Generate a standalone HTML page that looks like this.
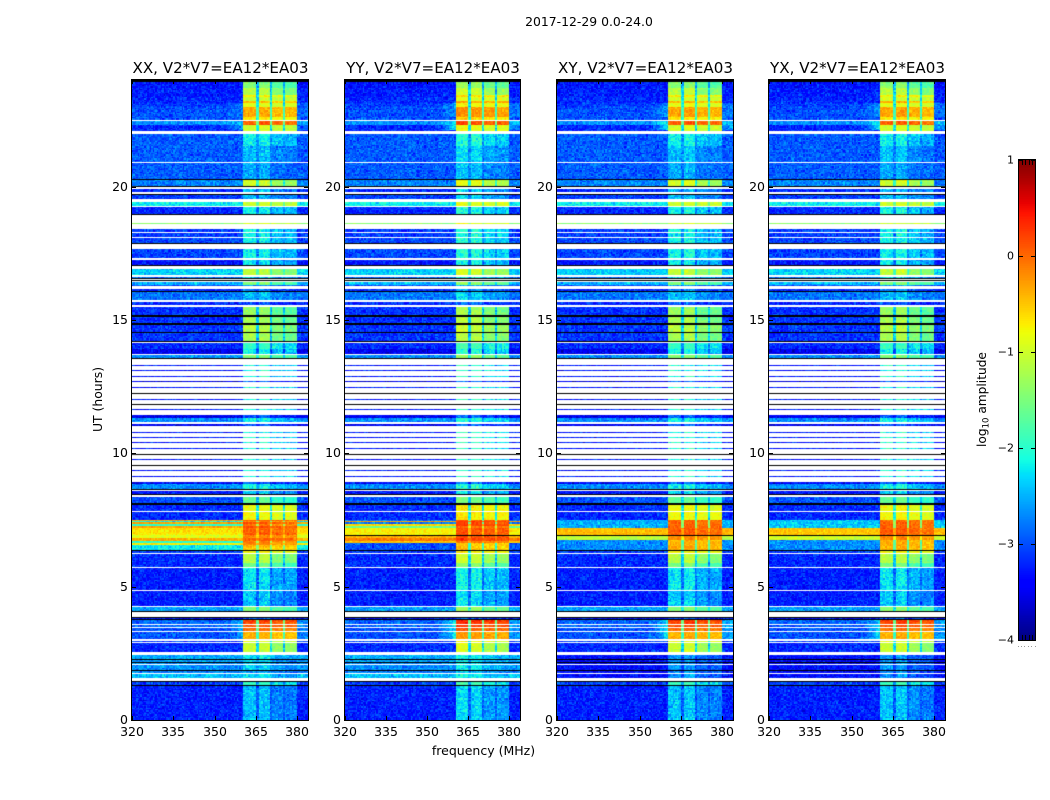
<!DOCTYPE html>
<html lang="en">
<head>
<meta charset="utf-8">
<title>2017-12-29 0.0-24.0</title>
<style>
html,body{margin:0;padding:0;background:#fff;}
#figure{position:relative;width:1050px;height:800px;overflow:hidden;background:#fff;font-family:"DejaVu Sans","Liberation Sans",sans-serif;}
#figure canvas{position:absolute;display:block;}
#overlay{position:absolute;left:0;top:0;}
#overlay text{fill:#000;font-family:"DejaVu Sans","Liberation Sans",sans-serif;}
</style>
</head>
<body>
<div id="figure">
<svg id="overlay" width="1050" height="800" viewBox="0 0 1050 800"></svg>
</div>
<script>
// ---- chart data ----
const W = null;   // flagged time range (drawn white)
const K = -9;     // zero amplitude (drawn black)
const B = -3.3;   // short scan between flagged ranges, off-band level
const G = -2.1;   // short scan between flagged ranges, in-band level

const polarizations = ['XX', 'YY', 'XY', 'YX'];
const baselineLabel = 'V2*V7=EA12*EA03';
const freqTicks = [320, 335, 350, 365, 380];
const hourTicks = [0, 5, 10, 15, 20];
const colorbarTicks = [-4, -3, -2, -1, 0, 1];

// Time bands: start hour, off-band log10 amplitude, in-band log10 amplitude
const bandStart = [
  0,1.275,1.31,1.44,1.48,1.59,1.73,1.76,1.82,1.86,
  2.07,2.11,2.145,2.18,2.25,2.29,2.42,2.55,2.895,2.93,
  2.98,3.02,3.30,3.34,3.45,3.49,3.56,3.60,3.66,3.69,
  3.75,3.79,3.84,3.87,4.06,4.09,4.22,4.275,4.85,4.89,
  5.70,5.74,5.89,6.22,6.27,6.33,6.39,6.48,6.56,6.64,
  6.71,6.82,6.94,7.0,7.2,7.27,7.35,7.42,7.46,7.50,
  7.81,7.84,8.08,8.14,8.36,8.42,8.46,8.58,8.625,8.66,
  8.86,8.925,9.11,9.15,9.33,9.36,9.525,9.56,9.75,9.78,
  9.94,9.99,10.15,10.19,10.39,10.42,10.575,10.61,10.76,10.80,
  11.01,11.11,11.175,11.325,11.43,11.61,11.65,11.80,11.84,12.01,
  12.05,12.225,12.26,12.44,12.475,12.675,12.71,12.86,12.90,13.08,
  13.11,13.29,13.32,13.525,13.56,13.675,13.725,13.90,14.125,14.175,
  14.23,14.51,14.56,14.81,14.87,15.13,15.17,15.49,15.55,15.69,
  15.75,16.06,16.10,16.18,16.26,16.31,16.44,16.475,16.51,16.55,
  16.59,16.62,16.67,16.91,17.025,17.06,17.25,17.34,17.67,17.85,
  17.89,18.075,18.13,18.26,18.30,18.41,18.61,18.64,18.94,18.975,
  19.22,19.29,19.41,19.53,19.69,19.73,19.80,19.91,19.97,20.025,
  20.25,20.29,20.895,20.93,21.525,21.975,22.10,22.33,22.46,22.50,
  22.61,23.0,23.12,23.21,23.36,23.45,23.70,23.91
];
const bandOff = [
  -3.25,K,-3.1,K,W,-2.45,W,-2.75,K,-2.7,
  W,-2.7,K,-2.6,K,-2.55,W,-3.2,W,-3.1,
  W,-3.0,W,-3.0,W,-2.9,W,-2.9,W,-2.9,
  K,-3.3,K,W,K,-2.6,W,-3.25,W,-3.25,
  W,-3.2,-3.2,W,-3.1,K,-2.2,-2.2,-0.7,-2.0,
  -0.4,-0.9,-0.7,-0.65,-0.35,-2.0,-0.3,-2.2,-0.4,-3.2,
  W,-3.2,K,-3.0,W,K,-3.3,W,K,-2.7,
  -3.4,W,B,W,B,W,K,W,B,W,
  K,W,B,W,B,W,B,W,B,W,
  -3.5,W,-2.7,-3.5,W,B,W,K,W,B,
  W,K,W,B,W,-3.6,W,B,W,B,
  W,B,W,K,-2.7,W,-3.5,-3.2,W,K,
  -3.15,K,-3.15,K,-3.15,K,-3.15,W,-3.2,W,
  -2.8,K,-3.2,W,-3.0,-2.5,W,K,W,K,
  -2.8,W,-2.35,W,K,-3.3,W,-3.05,W,K,
  -3.05,W,-3.1,W,-3.1,W,-1.4,W,K,-3.2,
  W,-2.2,W,-3.1,K,W,-3.2,W,K,-2.75,
  K,-2.95,W,-2.95,-2.95,W,-3.2,-2.7,W,-3.0,
  -3.0,-3.1,-3.2,-3.2,-3.25,-3.25,-3.3,K
];
const bandIn = [
  -2.5,K,-2.0,K,W,-2.35,W,-2.6,K,-2.4,
  W,-2.4,K,-2.4,K,-2.3,W,-1.1,W,-0.9,
  W,-0.4,W,-0.05,W,0.1,W,0.15,W,0.2,
  K,-3.0,K,W,K,-1.5,W,-2.45,W,-2.3,
  W,-1.6,-1.2,W,-0.8,K,-0.5,-0.4,-0.2,-0.15,
  0.05,-0.15,0.1,0.05,0.1,-0.1,0.1,-0.2,0.05,-0.8,
  W,-0.85,K,-1.7,W,K,-2.4,W,K,-2.2,
  -3.0,W,G,W,G,W,K,W,G,W,
  K,W,G,W,G,W,G,W,G,W,
  -3.0,W,-2.2,-3.0,W,G,W,K,W,G,
  W,K,W,G,W,-3.0,W,G,W,G,
  W,G,W,K,-1.5,W,-2.2,-2.0,W,K,
  -1.3,K,-1.2,K,-1.3,K,-1.4,W,-3.0,W,
  -2.5,K,-2.8,W,-2.7,-1.5,W,K,W,K,
  -2.3,W,-1.15,W,K,-2.3,W,-2.2,W,K,
  -2.2,W,-2.2,W,-2.2,W,-1.0,W,K,-2.2,
  W,-1.0,W,-2.5,K,W,-2.5,W,K,-1.05,
  K,-2.6,W,-2.5,-2.2,W,-1.0,0.05,W,-0.7,
  -0.35,-0.9,-0.45,-1.0,-0.75,-1.2,-1.5,K
];

// Polarization-specific time ranges replacing the shared table above (later rows win)
const overrideStart = [6.39,6.62,6.72,6.82,6.9,6.94,7.2,7.27,7.35,7.42, 6.39,6.75,6.9,6.94,7.2,7.3, 6.39,6.75,6.9,6.94,7.2,7.3, 1.59,1.59];
const overrideEnd   = [6.62,6.72,6.82,6.9,6.94,7.2,7.27,7.35,7.5,7.46, 6.75,6.9,6.94,7.2,7.5,7.33, 6.75,6.9,6.94,7.2,7.5,7.33, 2.42,2.42];
const overridePol   = [1,1,1,1,1,1,1,1,1,1, 2,2,2,2,2,2, 3,3,3,3,3,3, 2,3];
const overrideOff   = [-3.0,-0.5,-0.1,-0.4,K,-0.75,-1.6,-0.6,-2.8,-0.3, -2.7,-1.1,K,-0.45,-2.5,-1.2, -2.7,-1.0,K,-0.5,-2.4,-1.2, -3.35,-3.35];
const overrideIn    = [-0.6,-0.2,0.1,0.05,K,0.0,-0.1,0.1,0.0,0.1, -0.4,-0.2,K,0.05,0.0,0.0, -0.4,-0.2,K,0.05,0.0,0.0, -2.7,-2.7];

// Receiver sub-bands in MHz, with per-polarization level offsets
const subbandStart = [360.5, 365.8, 370.9, 375.6];
const subbandEnd   = [364.9, 369.8, 374.9, 380.0];
const polSubbandOffset = [[0,0,-0.1,-0.1],[0.15,0.1,0.05,0.05],[0,0.05,-0.05,-0.05],[0,0.05,-0.05,-0.1]];
const lowLevelSubbandOffset = [0.05,0.05,-0.15,-0.2];

// Spectral leakage next to the sub-bands during strong interference
const wingStart = [3.0, 22.1, 22.6];
const wingEnd   = [3.75, 22.5, 23.1];
const wingLevel = [-2.2, -2.1, -2.6];
const polWingStrength = [0.6, 1, 1, 1];

// Speckle deviations in log10 amplitude, estimated from the picture's grain
const speckleA = [0.12,-0.18,0.05,0.22,-0.09,-0.25,0.16,0.02,-0.14,0.26,-0.04,0.09,-0.21,0.18,-0.11,0.03,0.24,-0.17,-0.02,0.14,-0.27,0.07,0.2,-0.12,0.01,-0.2,0.11,0.28,-0.07,-0.15,0.17,-0.23,0.04,0.13,-0.05,0.21,-0.16];
const speckleB = [-0.1,0.15,0.03,-0.2,0.08,0.19,-0.06,-0.13,0.11,-0.01,0.17,-0.18,0.06,0.12,-0.22,0.02,0.14,-0.08,0.2,-0.03,-0.15,0.09,0.04,-0.12,0.18,-0.05,0.13,-0.19,0.01,0.16,-0.09,0.07,-0.24,0.1,0.05,-0.14,0.21,-0.04,-0.11,0.08,0];

// ---- layout and axes ----
const panelLeft  = [132, 345, 557, 769];
const panelRight = [308, 520, 733, 945];
const axisTop = 80;
const axisBottom = 720;
const freqMin = 320;
const freqMax = 384;
const hourMax = 24;
const channelWidth = 0.5;
const rowHours = 0.0375;
const colorMin = -4;
const colorMax = 1;
const cbarLeft = 1019;
const cbarRight = 1035;
const cbarTop = 160;
const cbarBottom = 640;

function xScale(p, f) {
  return panelLeft[p] + (f - freqMin) / (freqMax - freqMin) * (panelRight[p] - panelLeft[p]);
}
function yScale(h) {
  return axisBottom - h / hourMax * (axisBottom - axisTop);
}
function cbarScale(v) {
  return cbarBottom - (v - colorMin) / (colorMax - colorMin) * (cbarBottom - cbarTop);
}

// ---- jet colormap ----
const jetRed = [[0,0],[0.35,0],[0.66,1],[0.89,1],[1,0.5]];
const jetGreen = [[0,0],[0.125,0],[0.375,1],[0.64,1],[0.91,0],[1,0]];
const jetBlue = [[0,0.5],[0.11,1],[0.34,1],[0.65,0],[1,0]];
function channelAt(stops, t) {
  for (let i = 1; i < stops.length; i++) {
    if (t <= stops[i][0]) {
      const a = stops[i - 1], b = stops[i];
      return a[1] + (b[1] - a[1]) * (t - a[0]) / (b[0] - a[0]);
    }
  }
  return stops[stops.length - 1][1];
}
const colorLut = [];
for (let i = 0; i < 256; i++) {
  const t = i / 255;
  colorLut.push('rgb(' + Math.round(channelAt(jetRed, t) * 255) + ',' + Math.round(channelAt(jetGreen, t) * 255) + ',' + Math.round(channelAt(jetBlue, t) * 255) + ')');
}
function colorFor(v) {
  const t = Math.max(0, Math.min(1, (v - colorMin) / (colorMax - colorMin)));
  return colorLut[Math.round(t * 255)];
}

// ---- heatmap ----
function bandLevels(p, h) {
  let idx = 0;
  for (let i = 0; i < bandStart.length; i++) {
    if (bandStart[i] <= h) idx = i; else break;
  }
  let off = bandOff[idx], inb = bandIn[idx];
  for (let i = 0; i < overrideStart.length; i++) {
    if (overridePol[i] === p && h >= overrideStart[i] && h < overrideEnd[i]) {
      const gapRow = off === W || off === K;
      if (!gapRow || overrideOff[i] === K) {
        off = overrideOff[i];
        inb = overrideIn[i];
      }
    }
  }
  return [off, inb];
}
function wingFor(h) {
  for (let i = 0; i < wingStart.length; i++) {
    if (h >= wingStart[i] && h < wingEnd[i]) return wingLevel[i];
  }
  return null;
}
function cellValue(p, f, off, inb, wing) {
  for (let s = 0; s < subbandStart.length; s++) {
    if (f >= subbandStart[s] && f < subbandEnd[s]) {
      return inb + polSubbandOffset[p][s] + (inb < -1 ? lowLevelSubbandOffset[s] : 0);
    }
  }
  if (f >= subbandStart[0] && f < subbandEnd[3]) return off + 0.42 * (inb - off);
  if (wing !== null) {
    const k = polWingStrength[p];
    if (f < subbandStart[0] && f > 352) {
      const u = (f - 352) / (subbandStart[0] - 352);
      return Math.max(off, off + (wing - off) * u * u * k);
    }
    if (f >= subbandEnd[3]) return Math.max(off, off + (wing - off) * 0.45 * k);
  }
  return off;
}
function grainMix(c, row, p) {
  let m = Math.imul(c * 4099 + row * 131 + p * 7 + 1, 2654435761);
  m ^= m >>> 15;
  m = Math.imul(m, 739982445);
  m ^= m >>> 12;
  return m >>> 0;
}
function drawHeatmap(p) {
  const canvas = document.createElement('canvas');
  
  
  canvas.width = panelRight[p] - panelLeft[p];
  canvas.height = axisBottom - axisTop;
  canvas.style.left = panelLeft[p] + 'px';
  canvas.style.top = axisTop + 'px';
  const ctx = canvas.getContext('2d');
  ctx.fillStyle = '#fff';
  ctx.fillRect(0, 0, canvas.width, canvas.height);
  const rows = Math.round(hourMax / rowHours);
  const channels = Math.round((freqMax - freqMin) / channelWidth);
  for (let r = 0; r < rows; r++) {
    const h0 = r * rowHours;
    const levels = bandLevels(p, h0 + rowHours / 2);
    const off = levels[0], inb = levels[1];
    if (off === W) continue;
    const y0 = Math.round(yScale(h0 + rowHours)) - axisTop;
    const y1 = Math.round(yScale(h0)) - axisTop;
    if (off === K) {
      ctx.fillStyle = '#000';
      ctx.fillRect(0, y0, canvas.width, y1 - y0);
      continue;
    }
    const wing = wingFor(h0);
    const grainRow = Math.floor(r * 0.75);
    for (let c = 0; c < channels; c++) {
      const f = freqMin + c * channelWidth;
      const x0 = Math.round(xScale(p, f)) - panelLeft[p];
      const x1 = Math.round(xScale(p, f + channelWidth)) - panelLeft[p];
      const base = cellValue(p, f + channelWidth / 2, off, inb, wing);
      const mix = grainMix(c, grainRow, p);
      const a = speckleA[(mix >>> 4) % speckleA.length];
      const b = speckleB[(mix >>> 18) % speckleB.length];
      const amount = base < -2 ? 0.85 : 0.5;
      ctx.fillStyle = colorFor(base + (a + b) * amount);
      ctx.fillRect(x0, y0, x1 - x0, y1 - y0);
    }
  }
  document.getElementById('figure').insertBefore(canvas, document.getElementById('overlay'));
}

// ---- svg helpers ----
const svgNS = 'http://www.w3.org/2000/svg';
const overlay = document.getElementById('overlay');
function addText(name, str, x, y, size, anchor, rotate) {
  const el = document.createElementNS(svgNS, 'text');
  
  
  el.setAttribute('x', x);
  el.setAttribute('y', y);
  el.setAttribute('font-size', size);
  el.setAttribute('text-anchor', anchor);
  if (rotate) el.setAttribute('transform', 'rotate(' + rotate + ' ' + x + ' ' + y + ')');
  el.textContent = str;
  overlay.appendChild(el);
  return el;
}
function addLine(name, x1, y1, x2, y2, color) {
  const el = document.createElementNS(svgNS, 'line');
  
  
  el.setAttribute('x1', x1);
  el.setAttribute('y1', y1);
  el.setAttribute('x2', x2);
  el.setAttribute('y2', y2);
  el.setAttribute('stroke', color);
  el.setAttribute('stroke-width', 1);
  overlay.appendChild(el);
  return el;
}
function addFrame(name, x, y, w, h) {
  const el = document.createElementNS(svgNS, 'rect');
  
  
  el.setAttribute('x', x);
  el.setAttribute('y', y);
  el.setAttribute('width', w);
  el.setAttribute('height', h);
  el.setAttribute('fill', 'none');
  el.setAttribute('stroke', '#000');
  el.setAttribute('stroke-width', 1);
  overlay.appendChild(el);
  return el;
}

// ---- panels ----
polarizations.forEach(function (pol, p) {
  const key = pol.toLowerCase();
  drawHeatmap(p);
  addFrame('axes-frame-' + key, panelLeft[p] - 0.5, axisTop - 0.5, panelRight[p] - panelLeft[p] + 1, axisBottom - axisTop + 1);
  addText('panel-title-' + key, pol + ', ' + baselineLabel, (panelLeft[p] + panelRight[p]) / 2 + 0.5, 73, 15.1, 'middle');
  freqTicks.forEach(function (f) {
    const x = Math.round(xScale(p, f)) + 0.5;
    addLine('x-tick-bottom-' + key + '-' + f, x, axisBottom, x, axisBottom - 4, '#000');
    addLine('x-tick-top-' + key + '-' + f, x, axisTop, x, axisTop + 4, '#000');
    addText('x-tick-label-' + key + '-' + f, String(f), x - 0.5, 736, 12.5, 'middle');
  });
  hourTicks.forEach(function (h) {
    const y = Math.round(yScale(h)) + 0.5;
    addLine('y-tick-left-' + key + '-' + h, panelLeft[p], y, panelLeft[p] + 4, y, '#000');
    addLine('y-tick-right-' + key + '-' + h, panelRight[p], y, panelRight[p] - 4, y, '#000');
    addText('y-tick-label-' + key + '-' + h, String(h), panelLeft[p] - 4, y + 3.5, 12.5, 'end');
  });
});

// ---- shared labels ----
addText('figure-title', '2017-12-29 0.0-24.0', 589, 26, 12.4, 'middle');
addText('x-axis-title', 'frequency (MHz)', 483.5, 755, 12.5, 'middle');
addText('y-axis-title', 'UT (hours)', 102, 399.5, 12.4, 'middle', -90);

// ---- colorbar ----
const cbarCanvas = document.createElement('canvas');


cbarCanvas.width = cbarRight - cbarLeft;
cbarCanvas.height = cbarBottom - cbarTop;
cbarCanvas.style.left = cbarLeft + 'px';
cbarCanvas.style.top = cbarTop + 'px';
const cbarCtx = cbarCanvas.getContext('2d');
for (let y = 0; y < cbarCanvas.height; y++) {
  const v = colorMax - (y + 0.5) / cbarCanvas.height * (colorMax - colorMin);
  cbarCtx.fillStyle = colorFor(v);
  cbarCtx.fillRect(0, y, cbarCanvas.width, 1);
}
document.getElementById('figure').insertBefore(cbarCanvas, overlay);
addFrame('colorbar-frame', cbarLeft - 0.5, cbarTop - 0.5, cbarRight - cbarLeft + 1, cbarBottom - cbarTop + 1);
colorbarTicks.forEach(function (v) {
  const y = Math.round(cbarScale(v)) + 0.5;
  const label = v < 0 ? '\u2212' + Math.abs(v) : String(v);
  addLine('colorbar-tick-left-' + v, cbarLeft, y, cbarLeft + 4, y, '#000');
  addLine('colorbar-tick-right-' + v, cbarRight, y, cbarRight - 4, y, '#000');
  addText('colorbar-tick-label-' + v, label, cbarLeft - 5, y + 3, 11, 'end');
});
for (let i = 1; i < 5; i++) {
  const x = Math.round(cbarLeft + i * (cbarRight - cbarLeft) / 5) + 0.5;
  addLine('colorbar-edge-tick-top-' + i, x, cbarTop, x, cbarTop + 5, '#000');
  addLine('colorbar-edge-tick-bottom-' + i, x, cbarBottom, x, cbarBottom - 5, '#000');
}
for (let i = 0; i < 6; i++) {
  const x = Math.round(cbarLeft - 1.5 + i * 3.4);
  addLine('colorbar-stray-dot-' + i, x, 646.5, x + 1, 646.5, '#999');
}
const cbarLabel = addText('colorbar-title', 'log', 986, 399.5, 12.2, 'middle', -90);
const cbarSub = document.createElementNS(svgNS, 'tspan');


cbarSub.setAttribute('font-size', 8.5);
cbarSub.setAttribute('dy', 2.5);
cbarSub.textContent = '10';
cbarLabel.appendChild(cbarSub);
const cbarRest = document.createElementNS(svgNS, 'tspan');


cbarRest.setAttribute('dy', -2.5);
cbarRest.textContent = ' amplitude';
cbarLabel.appendChild(cbarRest);
</script>
</body>
</html>
